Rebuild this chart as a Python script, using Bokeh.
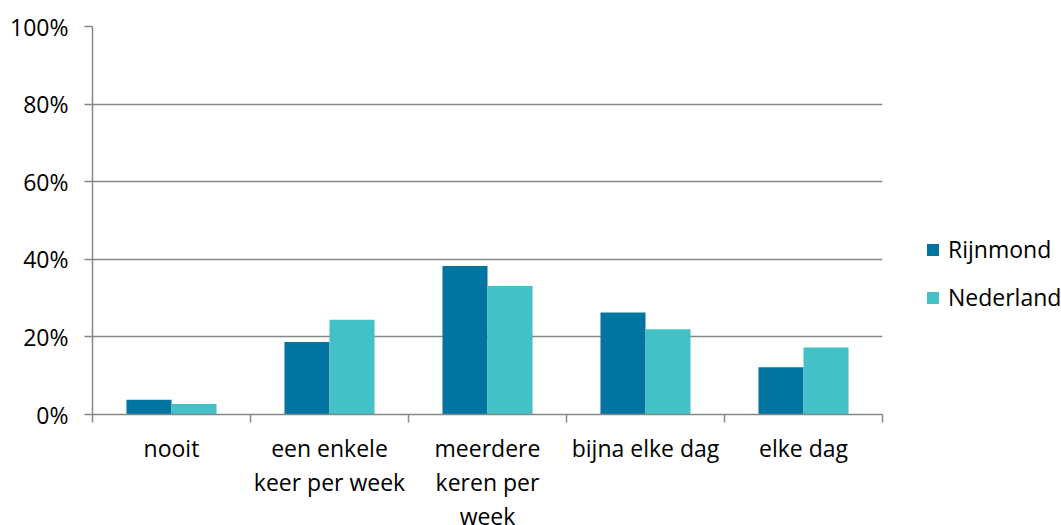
from bokeh.plotting import figure
from bokeh.models import Range1d, FixedTicker, Legend, LegendItem, PrintfTickFormatter
from bokeh.transform import dodge
from bokeh.models import ColumnDataSource
from bokeh.embed import file_html
from bokeh.resources import INLINE

categories = ["nooit", "een enkele\nkeer per week", "meerdere\nkeren per\nweek", "bijna elke dag", "elke dag"]
rijnmond = [3.8, 18.7, 38.3, 26.3, 12.2]
nederland = [2.7, 24.4, 33.1, 22.0, 17.3]
y_ticks = [0, 20, 40, 60, 80, 100]

FONT = "Open Sans"
GRID = "#868686"
C_R = "#0274A0"
C_N = "#44C1C6"
FS = "23px"

centers = [i + 0.5 for i in range(len(categories))]
bounds = [float(i) for i in range(len(categories) + 1)]

src = ColumnDataSource(dict(x=centers, r=rijnmond, n=nederland))

p = figure(frame_width=790, frame_height=388, output_backend="svg", toolbar_location=None,
           x_range=Range1d(0, len(categories)), y_range=Range1d(0, 100),
           min_border_left=92, min_border_right=179, min_border_top=26, min_border_bottom=10)
p.outline_line_color = None
p.background_fill_color = "white"
p.border_fill_color = "white"

bw = 0.285
r1 = p.vbar(x=dodge("x", -bw / 2, range=p.x_range), top="r", width=bw, source=src,
            fill_color=C_R, line_color=None)
r2 = p.vbar(x=dodge("x", bw / 2, range=p.x_range), top="n", width=bw, source=src,
            fill_color=C_N, line_color=None)

p.xgrid.visible = False
p.ygrid.ticker = FixedTicker(ticks=y_ticks)
p.ygrid.grid_line_color = GRID
p.ygrid.grid_line_width = 1.5

ya = p.yaxis[0]
ya.ticker = FixedTicker(ticks=y_ticks)
ya.formatter = PrintfTickFormatter(format="%d%%")
ya.axis_line_color = GRID
ya.axis_line_width = 1.5
ya.major_tick_line_color = GRID
ya.major_tick_line_width = 1.5
ya.major_tick_out = 8
ya.major_tick_in = 0
ya.minor_tick_line_color = None
ya.major_label_standoff = 16
ya.major_label_text_font = FONT
ya.major_label_text_font_size = FS
ya.major_label_text_color = "#000000"

xa = p.xaxis[0]
xa.ticker = FixedTicker(ticks=centers, minor_ticks=bounds)
xa.major_label_overrides = {c: lab for c, lab in zip(centers, categories)}
xa.axis_line_color = GRID
xa.axis_line_width = 1.5
xa.major_tick_line_color = None
xa.major_tick_out = 8
xa.major_tick_in = 0
xa.minor_tick_line_color = GRID
xa.minor_tick_line_width = 1.5
xa.minor_tick_out = 8
xa.minor_tick_in = 0
xa.major_label_standoff = 9
xa.major_label_text_font = FONT
xa.major_label_text_font_size = FS
xa.major_label_text_color = "#000000"
xa.major_label_text_line_height = 1.07

legend = Legend(items=[LegendItem(label="Rijnmond", renderers=[r1]),
                       LegendItem(label="Nederland", renderers=[r2])],
                location=(43, 101), orientation="vertical",
                border_line_color=None, background_fill_alpha=0,
                padding=0, margin=0, glyph_width=15, glyph_height=15,
                label_standoff=8, spacing=16,
                label_text_font=FONT, label_text_font_size=FS, label_text_color="#000000")
p.add_layout(legend, "right")

open("out.html", "w").write(file_html(p, INLINE))
